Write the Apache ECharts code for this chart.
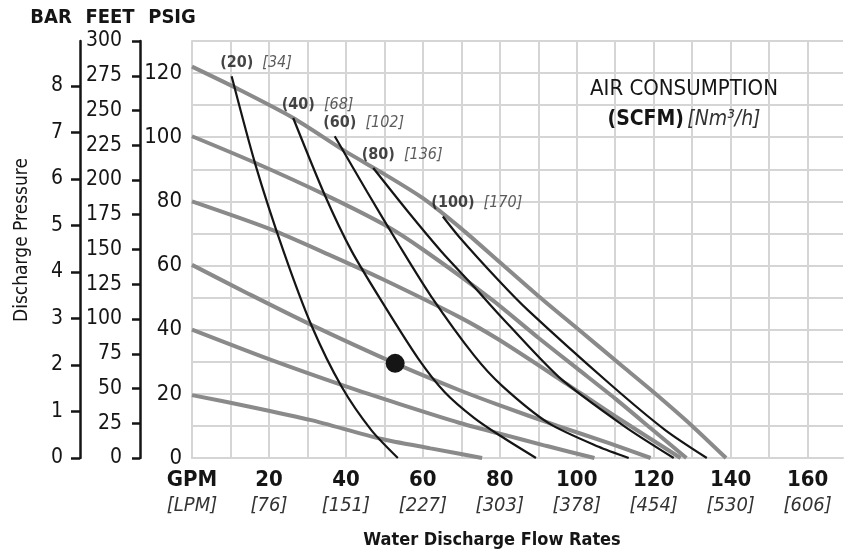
<!DOCTYPE html>
<html><head><meta charset="utf-8">
<script src="https://cdn.jsdelivr.net/npm/echarts@6/dist/echarts.min.js"></script>
<style>html,body{margin:0;padding:0;background:#fff}#c{width:846px;height:555px}</style>
</head><body><div id="c"></div>
<script>
const FONT = "'DejaVu Sans Condensed','Liberation Sans Narrow',sans-serif";

// Tick labels
const gpmTicks = [0, 20, 40, 60, 80, 100, 120, 140, 160];
const gpmLabels = ['GPM', '20', '40', '60', '80', '100', '120', '140', '160'];
const lpmLabels = ['[LPM]', '[76]', '[151]', '[227]', '[303]', '[378]', '[454]', '[530]', '[606]'];
const psigTicks = [0, 20, 40, 60, 80, 100, 120];
const feetTicks = [0, 25, 50, 75, 100, 125, 150, 175, 200, 225, 250, 275, 300];
const barTicks = [0, 1, 2, 3, 4, 5, 6, 7, 8];

// Pump performance curves at inlet air pressure (PSIG): [GPM, PSIG discharge]
const psi20 = [[0,19.6],[15,16],[31,11.8],[49,6],[62,3],[75.4,0]];
const psi40 = [[0,40],[20,30.8],[40,22.3],[54,16.8],[69.4,11],[80,7.6],[92,3.8],[104.6,0]];
const psi60 = [[0,60.2],[15,51],[31,41.5],[52.8,29.5],[69.4,21.2],[80,16.4],[95,10],[108,4.8],[119.2,0]];
const psi80 = [[0,80],[20,71.5],[35.4,63.5],[50,55.5],[69.4,44],[79.6,37],[95,25],[110,13],[127,0]];
const psi100 = [[0,100.3],[15.5,92.5],[34.5,82.1],[50,72.7],[60,65],[78,49.3],[90,37.5],[100,28],[110,18.5],[120,8.5],[128.5,0]];
const psi120 = [[0,122],[12,115],[26.3,106],[40,95.5],[50,88.5],[60,81],[70,71.5],[80,61],[90,50.5],[100,40.5],[112.5,28],[120,20.5],[130,10],[138.8,0]];

// Air consumption curves (SCFM)
const scfm20 = [[10.3,119],[16.5,91.4],[23.8,64.4],[31.2,40.9],[38.9,22.2],[46.6,8.7],[53.5,0]];
const scfm40 = [[26.3,106],[34.5,82],[41.5,64.5],[50,47.5],[58.8,31],[65.7,20.5],[73.3,12.5],[80,7],[89.4,0]];
const scfm60 = [[37.1,100.3],[45.5,83],[54,66],[62.1,50.5],[73.3,32],[80.6,22.5],[92.8,10.8],[105.7,3.5],[113.5,0]];
const scfm80 = [[47.1,90.4],[56,77],[64.8,64.4],[73.3,53.4],[79.6,45],[95.3,25.3],[112.5,9.8],[125.2,0]];
const scfm100 = [[65.2,75.3],[69.4,69],[79.6,55.5],[87.3,46.1],[108.4,23.3],[123,8.7],[133.8,0]];

const scfmLabels = ['(20)', '(40)', '(60)', '(80)', '(100)'];
const nm3Labels = ['[34]', '[68]', '[102]', '[136]', '[170]'];
const dutyPoint = [52.8, 29.5];

const grayCurves = [psi20, psi40, psi60, psi80, psi100, psi120];
const blackCurves = [scfm20, scfm40, scfm60, scfm80, scfm100];

const GRID = '#d5d5d5';
const DARK = '#151515';
const X_MAX = 169.2;

const series = [];
grayCurves.forEach(d => series.push({
  type: 'line', data: d, yAxisIndex: 0, symbol: 'none', smooth: 0.25,
  lineStyle: { color: '#8a8a8a', width: 4 }, z: 2, silent: true
}));
blackCurves.forEach(d => series.push({
  type: 'line', data: d, yAxisIndex: 0, symbol: 'none', smooth: 0.25,
  lineStyle: { color: DARK, width: 2.2 }, z: 3, silent: true
}));
series.push({
  type: 'scatter', yAxisIndex: 0, data: blackCurves.map(c => c[0]), symbolSize: 1,
  itemStyle: { color: 'transparent' }, z: 5, silent: true,
  label: {
    show: true, position: [-11, -13], align: 'left', verticalAlign: 'middle',
    formatter: p => '{b|' + scfmLabels[p.dataIndex] + '}{i|' + nm3Labels[p.dataIndex] + '}',
    rich: {
      b: { fontFamily: FONT, fontWeight: 'bold', fontSize: 16, color: DARK },
      i: { fontFamily: FONT, fontStyle: 'italic', fontSize: 16, color: '#333', padding: [0, 0, 0, 9] }
    }
  }
});
series.push({
  type: 'scatter', yAxisIndex: 0, data: [dutyPoint], symbolSize: 19,
  itemStyle: { color: DARK, opacity: 1 }, z: 6, silent: true
});

const xLabelMap = {};
gpmTicks.forEach((v, i) => { xLabelMap[v] = '{b|' + gpmLabels[i] + '}\n{i|' + lpmLabels[i] + '}'; });
// one colour per vertical grid line (0..160 every 10, then the clipped edge)
const xGridColors = [];
for (let v = 0; v <= 160; v += 10) xGridColors.push(GRID);
xGridColors.push('rgba(0,0,0,0)');

const option = {
  animation: false,
  backgroundColor: '#fff',
  grid: { left: 192, top: 41, right: 0, bottom: 97, containLabel: false },
  xAxis: {
    type: 'value', min: 0, max: X_MAX, interval: 10,
    axisLine: { show: true, lineStyle: { color: GRID, width: 2 } },
    axisTick: { show: false },
    splitLine: { show: true, lineStyle: { color: xGridColors, width: 2 } },
    axisLabel: {
      margin: 10,
      formatter: v => xLabelMap[v] || '',
      rich: {
        b: { fontFamily: FONT, fontWeight: 'bold', fontSize: 22, color: DARK, lineHeight: 25 },
        i: { fontFamily: FONT, fontStyle: 'italic', fontSize: 20, color: '#333', lineHeight: 25 }
      }
    }
  },
  yAxis: [
    {
      type: 'value', min: 0, max: 130, interval: 10, position: 'left',
      axisLine: { show: true, lineStyle: { color: GRID, width: 2 } },
      axisTick: { show: false },
      splitLine: { show: true, lineStyle: { color: GRID, width: 2 } },
      axisLabel: {
        margin: 10, fontFamily: FONT, fontSize: 22, color: DARK,
        formatter: v => psigTicks.includes(v) ? String(v) : ''
      }
    },
    {
      type: 'value', min: 0, max: 300, interval: 25, position: 'left', offset: 52,
      axisLine: { show: true, lineStyle: { color: DARK, width: 2.5 } },
      axisTick: { show: true, length: 8, lineStyle: { color: DARK, width: 2.5 }, customValues: feetTicks },
      splitLine: { show: false },
      axisLabel: { margin: 18, fontFamily: FONT, fontSize: 21, color: DARK, customValues: feetTicks }
    },
    {
      type: 'value', min: 0, max: 130 / 14.5038, interval: 1, position: 'left', offset: 112,
      axisLine: { show: true, lineStyle: { color: DARK, width: 2.5 } },
      axisTick: { show: true, length: 9, lineStyle: { color: DARK, width: 2.5 }, customValues: barTicks },
      splitLine: { show: false },
      axisLabel: { margin: 17, fontFamily: FONT, fontSize: 21, color: DARK, customValues: barTicks }
    }
  ],
  graphic: [
    { type: 'text', x: 51, y: 18, style: { text: 'BAR', font: 'bold 20px ' + FONT, fill: DARK, align: 'center', verticalAlign: 'middle' } },
    { type: 'text', x: 110, y: 18, style: { text: 'FEET', font: 'bold 20px ' + FONT, fill: DARK, align: 'center', verticalAlign: 'middle' } },
    { type: 'text', x: 172, y: 18, style: { text: 'PSIG', font: 'bold 20px ' + FONT, fill: DARK, align: 'center', verticalAlign: 'middle' } },
    { type: 'text', x: 22, y: 240, rotation: Math.PI / 2,
      style: { text: 'Discharge Pressure', font: '19px ' + FONT, fill: DARK, align: 'center', verticalAlign: 'middle' } },
    { type: 'text', x: 492, y: 540,
      style: { text: 'Water Discharge Flow Rates', font: 'bold 18px ' + FONT, fill: DARK, align: 'center', verticalAlign: 'middle' } },
    { type: 'text', x: 684, y: 89, z: 10,
      style: { text: 'AIR CONSUMPTION', font: '22px ' + FONT, fill: DARK, align: 'center', verticalAlign: 'middle' } },
    { type: 'text', x: 684, y: 120, z: 10,
      style: {
        text: '{b|(SCFM)} {i|[Nm³/h]}', align: 'center', verticalAlign: 'middle',
        rich: {
          b: { fontFamily: FONT, fontWeight: 'bold', fontSize: 21, fill: DARK },
          i: { fontFamily: FONT, fontStyle: 'italic', fontSize: 21, fill: '#333' }
        }
      } }
  ],
  series: series
};

const chart = echarts.init(document.getElementById('c'));
chart.setOption(option);
</script>
</body></html>
